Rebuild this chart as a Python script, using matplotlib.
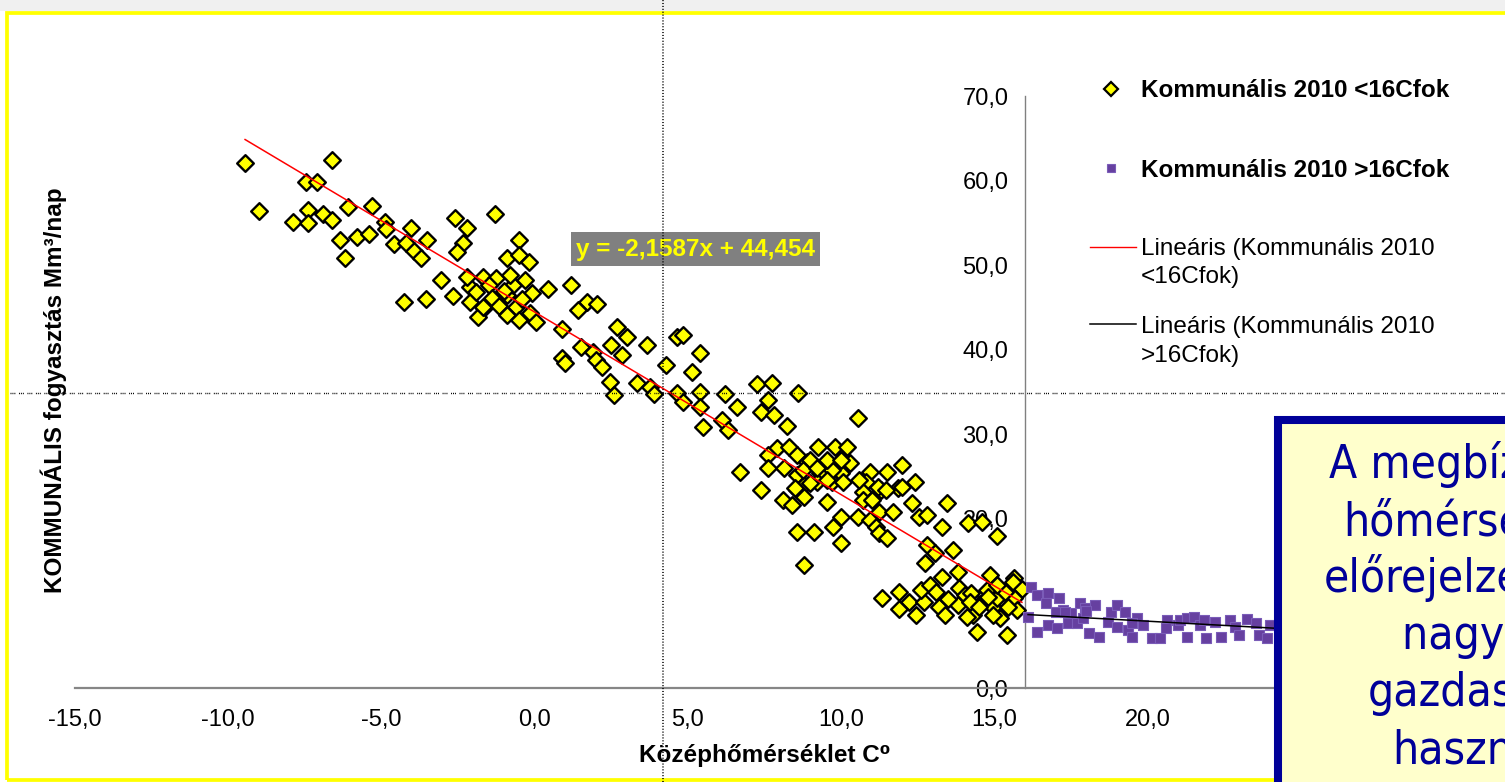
import numpy as np
import matplotlib.pyplot as plt
from matplotlib.lines import Line2D
from matplotlib.patches import Rectangle

plt.rcParams['font.family'] = ['Liberation Sans', 'DejaVu Sans']

# napi középhőmérséklet (C) és kommunális fogyasztás (Mm3/nap), 16 C alatt
cold_points = np.array([
    (-9.45, 62.1), (-6.6, 62.4), (-7.45, 59.8), (-7.1, 59.8), (-9.0, 56.4), (-7.4, 56.5),
    (-7.9, 55.1), (-7.4, 55.0), (-6.9, 56.0), (-6.6, 55.3), (-6.1, 56.9), (-5.3, 57.0),
    (-4.9, 55.1), (-4.85, 54.3), (-6.35, 53.0), (-6.2, 50.9), (-5.8, 53.3), (-5.4, 53.7),
    (-4.6, 52.5), (-4.2, 52.6), (-4.05, 54.4), (-3.5, 53.0), (-3.95, 51.7), (-3.7, 50.8),
    (-2.6, 55.6), (-2.2, 54.4), (-2.35, 52.6), (-2.55, 51.5), (-3.05, 48.2), (-4.25, 45.7),
    (-3.55, 46.0), (-2.65, 46.3), (-2.1, 47.4), (-2.1, 45.7), (-1.65, 44.9), (-1.85, 43.9),
    (-2.2, 48.6), (-1.7, 48.6),
    (-1.3, 56.1), (-0.5, 53.0), (-0.9, 50.8), (-0.5, 51.2), (-0.2, 50.4), (-1.25, 48.5),
    (-1.5, 47.6), (-1.7, 45.0), (-1.4, 46.1), (-1.15, 45.2), (-0.9, 46.5), (-0.7, 47.6),
    (-0.3, 48.2), (-0.1, 46.7), (-0.6, 45.0), (-0.9, 44.1), (-0.5, 43.5), (-0.15, 44.3),
    (0.05, 43.3), (0.45, 47.2), (1.2, 47.6), (0.9, 42.4), (1.7, 45.6), (2.05, 45.4),
    (1.4, 44.7), (1.5, 40.3), (0.9, 39.0), (1.0, 38.4), (1.9, 39.7), (2.0, 38.8),
    (2.2, 37.9), (2.45, 36.2), (2.7, 42.7), (3.0, 41.5), (2.5, 40.5), (2.85, 39.4),
    (3.65, 40.5), (3.35, 36.1), (3.75, 35.6), (4.3, 38.2), (4.65, 41.5), (4.85, 41.7),
    (5.4, 39.6), (5.15, 37.4), (5.4, 35.0), (4.65, 34.9), (-1.0, 47.0), (-0.8, 48.8),
    (-1.9, 46.8), (-0.4, 46.0), (2.6, 34.6),
    (3.9, 34.8), (4.85, 33.8), (5.4, 33.2), (5.5, 30.9), (6.2, 34.8), (6.6, 33.2),
    (6.1, 31.7), (6.3, 30.5), (7.25, 36.0), (7.75, 36.1), (7.6, 34.0), (7.4, 32.6),
    (7.8, 32.3), (8.25, 31.0), (8.6, 34.9), (10.55, 31.9), (6.7, 25.5), (7.4, 23.4),
    (7.9, 28.4), (7.6, 27.5), (7.6, 26.0), (8.3, 28.5), (8.55, 27.5), (8.15, 26.0),
    (8.55, 25.2), (8.9, 26.7), (9.25, 28.5), (9.8, 28.5), (10.2, 28.5), (9.5, 26.7),
    (10.0, 26.6), (10.3, 26.6), (9.3, 25.4), (9.7, 24.4), (10.0, 25.4), (9.2, 24.4),
    (8.8, 24.0), (8.55, 23.4), (10.95, 25.5), (11.5, 25.5), (12.0, 26.4), (10.8, 24.4),
    (11.3, 23.4), (10.7, 23.2), (11.85, 23.6),
    (9.0, 27.0), (9.7, 25.8), (9.0, 24.2), (8.1, 22.2), (8.4, 21.6), (8.8, 22.6),
    (9.55, 22.0), (12.4, 24.4), (10.6, 24.6), (11.2, 23.8), (11.45, 23.4), (12.0, 23.8),
    (10.7, 22.2), (11.0, 22.2), (11.25, 20.8), (11.7, 20.8), (12.3, 21.9), (12.55, 20.2),
    (12.8, 20.4), (13.45, 21.9), (13.3, 19.0), (10.55, 20.2), (10.0, 20.2), (9.75, 19.0),
    (9.1, 18.4), (8.55, 18.4), (10.0, 17.1), (10.95, 19.9), (11.15, 19.0), (11.25, 18.3),
    (11.5, 17.7), (8.8, 14.5), (12.8, 16.9), (13.05, 16.0), (13.65, 16.3), (14.15, 19.5),
    (14.6, 19.6), (15.1, 18.0), (12.75, 14.8), (13.3, 13.1), (13.8, 13.7), (14.85, 13.4),
    (15.65, 13.0), (9.55, 27.0), (10.0, 27.0), (8.75, 25.8), (9.2, 26.0), (9.55, 24.6),
    (10.05, 24.4), (8.5, 23.6),
    (11.35, 10.6), (11.9, 11.3), (12.2, 10.2), (11.9, 9.3), (12.45, 8.6), (12.7, 10.2),
    (12.6, 11.6), (12.9, 12.2), (13.1, 11.3), (13.2, 9.6), (13.4, 8.6), (13.85, 11.8),
    (13.8, 9.8), (14.05, 11.0), (14.25, 11.2), (14.3, 8.6), (14.1, 8.4), (14.45, 6.6),
    (14.75, 11.6), (14.6, 10.0), (14.95, 9.6), (15.1, 10.6), (15.2, 8.3), (15.4, 6.3),
    (15.6, 12.5), (15.9, 11.7), (15.65, 10.6), (15.75, 9.2), (15.35, 11.3), (15.1, 12.2),
    (14.2, 10.2), (14.5, 9.6), (14.95, 8.6), (15.45, 9.6), (13.5, 10.5), (14.8, 10.8),
])

# 16 C felett
warm_points = np.array([
    (16.2, 11.9), (16.4, 11.0), (16.75, 11.2), (17.1, 10.6), (16.7, 10.0), (16.1, 8.4),
    (16.4, 6.6), (16.75, 7.4), (17.05, 7.1), (17.25, 9.2), (17.4, 7.7), (17.5, 8.9),
    (17.8, 10.0), (17.7, 7.7), (17.95, 9.5), (18.1, 6.5), (18.3, 9.8), (18.4, 6.0),
    (17.9, 8.3), (18.8, 9.0), (19.0, 9.8), (19.25, 9.0), (18.7, 7.8), (19.0, 7.2),
    (19.35, 6.9), (19.5, 6.0), (19.65, 8.3), (19.85, 7.4), (19.5, 7.7), (20.15, 5.9),
    (20.4, 5.9), (20.65, 8.0), (20.6, 7.1), (21.0, 7.4), (21.05, 8.0), (21.3, 8.3),
    (21.5, 8.4), (21.3, 6.0), (21.7, 7.4), (21.85, 8.0), (21.9, 5.9), (22.2, 7.8),
    (22.4, 6.0), (22.7, 8.0), (22.85, 7.2), (23.0, 6.3), (23.25, 8.2), (23.55, 7.7),
    (23.65, 6.3), (23.9, 5.9), (24.0, 7.4), (17.0, 9.0), (17.3, 9.0), (18.0, 9.1),
])

# lineáris trendvonalak
cold_slope, cold_icpt = -2.1587, 44.454
warm_slope, warm_icpt = -0.2, 11.9
warm_trend_end = 30.0

x_ticks = [-15, -10, -5, 0, 5, 10, 15, 20, 25, 30]
x_tick_labels = ['-15,0', '-10,0', '-5,0', '0,0', '5,0', '10,0', '15,0', '20,0', '25,0', '30,0']
y_ticks = [0, 10, 20, 30, 40, 50, 60, 70]
y_tick_labels = ['0,0', '10,0', '20,0', '30,0', '40,0', '50,0', '60,0', '70,0']

legend_labels = ['Kommunális 2010 <16Cfok', 'Kommunális 2010 >16Cfok',
                 'Lineáris (Kommunális 2010', '<16Cfok)',
                 'Lineáris (Kommunális 2010', '>16Cfok)']

note_lines = ['A megbízható', 'hőmérséklet', 'előrejelzésnek', 'nagy a', 'gazdasági', 'haszna.']

W, H = 1505, 782
fig = plt.figure(figsize=(W / 100, H / 100), dpi=100)


def fx(px):
    return px / W


def fy(py):
    return 1 - py / H


ax = fig.add_axes([fx(75), fy(688), 1379 / W, 592 / H])
ax.set_xlim(-15, 30)
ax.set_ylim(0, 70)

ax.scatter(cold_points[:, 0], cold_points[:, 1], marker='D', s=72,
           facecolor='#FFFF00', edgecolor='black', linewidths=1.7, zorder=3)
ax.scatter(warm_points[:, 0], warm_points[:, 1], marker='s', s=52,
           facecolor='#6640A0', edgecolor='#7A5CB8', linewidths=0.8, zorder=3)

xs = np.array([cold_points[:, 0].min(), cold_points[:, 0].max()])
ax.plot(xs, cold_slope * xs + cold_icpt, color='#FF0000', lw=1.1, zorder=4)
xs = np.array([warm_points[:, 0].min(), warm_trend_end])
ax.plot(xs, warm_slope * xs + warm_icpt, color='black', lw=1.1, zorder=4)

eq = f'y = {cold_slope:.4f}x + {cold_icpt:.3f}'.replace('.', ',')
ax.text(5.25, 51.9, eq, ha='center', va='center', fontsize=17.5, fontweight='bold',
        color='#FFFF00', zorder=5,
        bbox=dict(boxstyle='square,pad=0.22', facecolor='#808080', edgecolor='none'))

for side in ['top', 'right']:
    ax.spines[side].set_visible(False)
ax.spines['left'].set_position(('data', 16))
ax.spines['left'].set_color('#808080')
ax.spines['left'].set_linewidth(1.0)
ax.spines['bottom'].set_color('#868686')
ax.spines['bottom'].set_linewidth(1.6)

ax.set_xticks(x_ticks)
ax.set_xticklabels(x_tick_labels)
ax.set_yticks(y_ticks)
ax.set_yticklabels(y_tick_labels)
ax.tick_params(axis='x', length=0, pad=15, labelsize=17)
ax.tick_params(axis='y', length=0, pad=12, labelsize=17)

ax.set_xlabel('Középhőmérséklet C⁰', fontsize=17.5, fontweight='bold', va='baseline')
ax.xaxis.set_label_coords(0.5, (688 - 762) / 592)
ax.set_ylabel('KOMMUNÁLIS fogyasztás Mm³/nap', fontsize=17.5, fontweight='bold',
              va='baseline', ha='center')
ax.yaxis.set_label_coords((62 - 75) / 1379, (688 - 390) / 592)

# jelmagyarázat
fig.add_artist(Line2D([fx(1111)], [fy(89)], marker='D', ms=7, mfc='#FFFF00',
                      mec='black', mew=1.6, ls='none'))
fig.add_artist(Line2D([fx(1111)], [fy(168)], marker='s', ms=6, mfc='#6640A0',
                      mec='#7A5CB8', mew=0.8, ls='none'))
fig.add_artist(Line2D([fx(1090), fx(1136)], [fy(247), fy(247)], color='#FF0000', lw=1.0))
fig.add_artist(Line2D([fx(1090), fx(1136)], [fy(324), fy(324)], color='black', lw=1.1))
baselines = [97, 177, 255, 283, 333, 362]
for i, (lab, py) in enumerate(zip(legend_labels, baselines)):
    fig.text(fx(1141), fy(py), lab, fontsize=17.5, va='baseline', ha='left',
             fontweight='bold' if i < 2 else 'normal')

# keret és segédvonalak
fig.add_artist(Rectangle((0, fy(11)), 1, 11 / H, transform=fig.transFigure,
                         facecolor='#F0F0F0', edgecolor='none', zorder=0))
fig.add_artist(Rectangle((fx(7.5), fy(779.5)), fx(1700), (779.5 - 13) / H,
                         transform=fig.transFigure, facecolor='none',
                         edgecolor='#FFFF00', lw=2.7, zorder=1))
fig.add_artist(Line2D([fx(663), fx(663)], [0, 1], color='black', lw=1.1,
                      dashes=[0.7, 1.2], zorder=6))
fig.add_artist(Line2D([fx(10), 1], [fy(393), fy(393)], color='black', lw=1.0,
                      dashes=[0.7, 0.7, 0.7, 0.7, 0.7, 2.6], zorder=6))

# szövegdoboz
fig.add_artist(Rectangle((fx(1278), fy(950)), 1, (950 - 420) / H,
                         transform=fig.transFigure, facecolor='#FFFFCC',
                         edgecolor='#000099', lw=5.8, zorder=7))
for i, line in enumerate(note_lines):
    fig.text(fx(1472), fy(478 + 57 * i), line, fontsize=33, family='DejaVu Sans',
             fontstretch='condensed', color='#000099', ha='center', va='baseline',
             zorder=8)

fig.savefig('out.png', dpi=100)
